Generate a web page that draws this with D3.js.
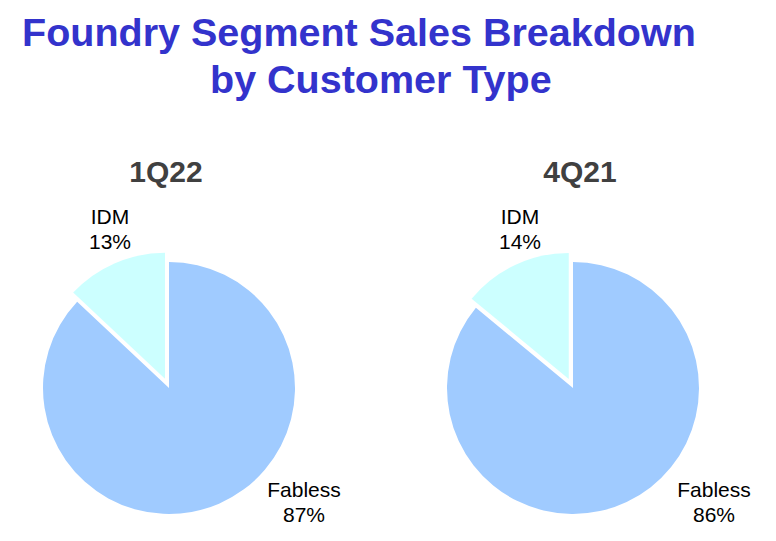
<!DOCTYPE html>
<html>
<head>
<meta charset="utf-8">
<script src="https://cdn.jsdelivr.net/npm/d3@7"></script>
<style>
  body { margin: 0; background: #fff; }
  text { font-family: "Liberation Sans", Arial, sans-serif; }
</style>
</head>
<body>
<div class="canvas"></div>
<script>
// data
const titleLines = ['Foundry Segment Sales Breakdown', 'by Customer Type'];
const periods = ['1Q22', '4Q21'];
const categories = ['Fabless', 'IDM'];
const shares1Q22 = [87, 13];
const shares4Q21 = [86, 14];

// layout
const dims = { width: 776, height: 541, radius: 126, explode: 10 };
const centers = [{ x: 169, y: 388 }, { x: 573, y: 388 }];
const periodX = [166, 580];
// label spots relative to pie center, by chart then category
const labelSpots = [
    { Fabless: { dx: 135, dy: 109 }, IDM: { dx: -59, dy: -164 } },
    { Fabless: { dx: 141, dy: 109 }, IDM: { dx: -53, dy: -164 } }
];
const color = d3.scaleOrdinal().domain(categories).range(['#A0CBFF', '#CCFFFF']);

const svg = d3.select('.canvas')
    .append('svg')
    .attr('width', dims.width)
    .attr('height', dims.height);

svg.append('rect')
    .attr('width', dims.width)
    .attr('height', dims.height)
    .attr('fill', '#fff');

// title
svg.selectAll('text.title')
    .data(titleLines)
    .enter()
    .append('text')
    .attr('class', 'title')
    .attr('x', (d, i) => i === 0 ? 22 : 210)
    .attr('y', (d, i) => i === 0 ? 46 : 93)
    .attr('font-size', 39.5)
    .attr('font-weight', 'bold')
    .attr('fill', '#3333CC')
    .text(d => d);

const pie = d3.pie()
    .sort(null)
    .value(d => d.value);

const arcPath = d3.arc()
    .outerRadius(dims.radius)
    .innerRadius(0);

const series = [shares1Q22, shares4Q21];

series.forEach((values, k) => {
    const data = categories.map((name, i) => ({ name, value: values[i] }));
    const cent = centers[k];

    // judul periode
    svg.append('text')
        .attr('x', periodX[k])
        .attr('y', 182)
        .attr('text-anchor', 'middle')
        .attr('font-size', 30)
        .attr('font-weight', 'bold')
        .attr('fill', '#404040')
        .text(periods[k]);

    const graph = svg.append('g')
        .attr('transform', `translate(${cent.x}, ${cent.y})`);

    graph.selectAll('path')
        .data(pie(data))
        .enter()
        .append('path')
        .attr('d', arcPath)
        .attr('fill', d => color(d.data.name))
        .attr('transform', d => {
            if (d.data.name !== 'IDM') return null;
            const mid = (d.startAngle + d.endAngle) / 2;
            return `translate(${dims.explode * Math.sin(mid)}, ${-dims.explode * Math.cos(mid)})`;
        });

    // label nama + persen
    const labels = graph.selectAll('text.lbl')
        .data(pie(data))
        .enter()
        .append('text')
        .attr('class', 'lbl')
        .attr('text-anchor', 'middle')
        .attr('font-size', 21)
        .attr('fill', '#000')
        .attr('transform', d => {
            const s = labelSpots[k][d.data.name];
            return `translate(${s.dx}, ${s.dy})`;
        });

    labels.append('tspan')
        .attr('x', 0)
        .attr('y', 0)
        .text(d => d.data.name);

    labels.append('tspan')
        .attr('x', 0)
        .attr('y', 25)
        .text(d => d.data.value + '%');
});
</script>
</body>
</html>
